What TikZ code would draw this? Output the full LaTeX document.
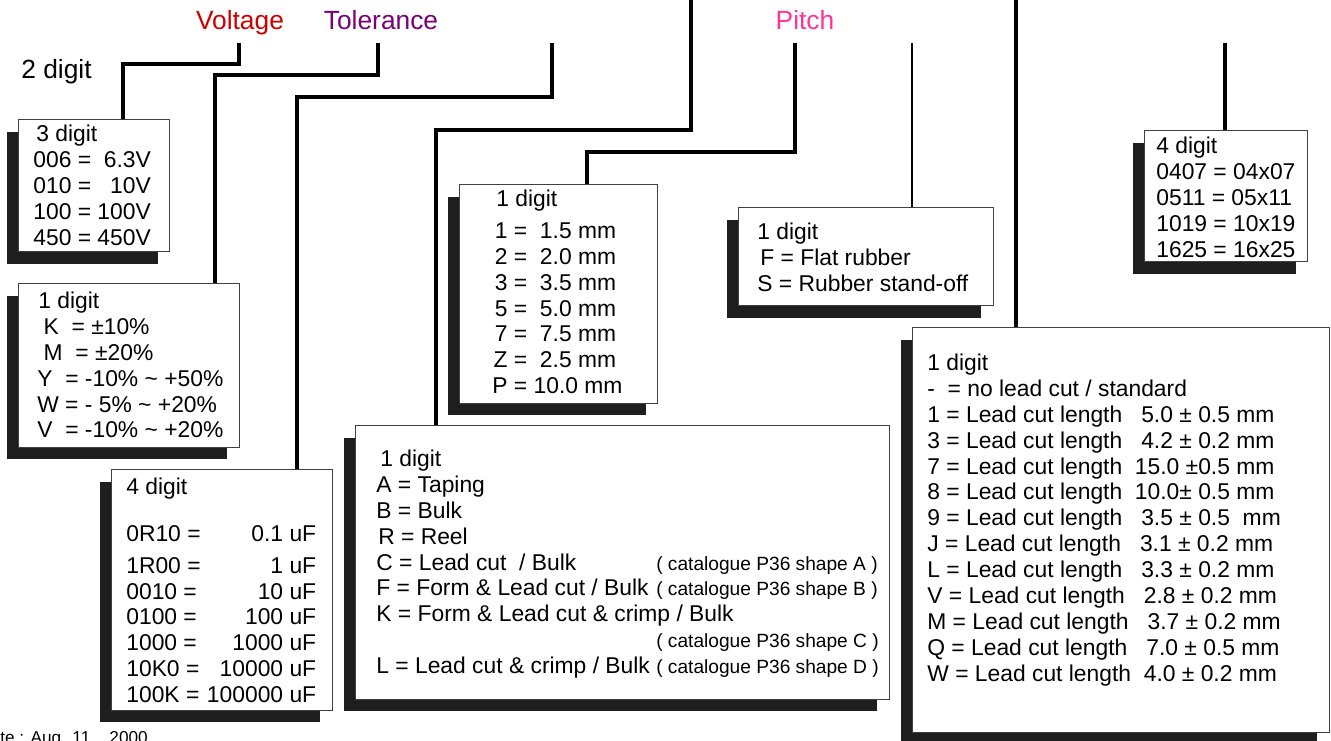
\documentclass[tikz,border=0pt]{standalone}
\usepackage{fontspec}
\setmainfont{Liberation Sans}
\usetikzlibrary{shadows}
\definecolor{volred}{RGB}{204,0,0}
\definecolor{tolpurple}{RGB}{120,0,120}
\definecolor{pitchpink}{RGB}{255,51,153}
\definecolor{shadowgray}{RGB}{30,30,30}
\newcommand{\catnote}[1]{{\fontsize{10.9pt}{12pt}\selectfont #1}}

\begin{document}
\begin{tikzpicture}[
    x=0.02cm, y=-0.02cm,
    card/.style={rectangle, draw=black!75, line width=0.6pt, fill=white, anchor=north west, inner sep=0pt,
        drop shadow={shadow xshift=-0.24cm, shadow yshift=-0.24cm, fill=shadowgray, opacity=1}},
    txt/.style={anchor=north west, inner sep=0pt, font=\fontsize{13pt}{14.74pt}\selectfont},
    tag/.style={anchor=base, inner sep=0pt, font=\fontsize{15pt}{18pt}\selectfont},
    wire/.style={line width=2pt}
]
\useasboundingbox (0,0) rectangle (1331,740);

% Headings
\node[tag, text=volred] (voltage) at (240,30) {Voltage};
\node[tag, text=tolpurple] (tolerance) at (381,30) {Tolerance};
\node[tag, text=pitchpink] (pitch) at (805,30) {Pitch};
\node[tag, anchor=base west] (series) at (21,79) {2 digit};

% Code boxes
\node[card, minimum width=3.02cm, minimum height=2.64cm] (volt) at (18,119) {};
\node[card, minimum width=4.42cm, minimum height=3.28cm] (tol) at (18,283) {};
\node[card, minimum width=4.42cm, minimum height=4.82cm] (cap) at (111,469) {};
\node[card, minimum width=3.96cm, minimum height=4.38cm] (pit) at (459,184) {};
\node[card, minimum width=5.10cm, minimum height=1.96cm] (rub) at (738,207) {};
\node[card, minimum width=10.68cm, minimum height=5.48cm] (pack) at (355,425) {};
\node[card, minimum width=8.34cm, minimum height=8.10cm] (cut) at (912,327) {};
\node[card, minimum width=3.26cm, minimum height=2.62cm] (size) at (1144,130) {};

% Box texts
\node[txt] (volttxt) at (33,123) {\begin{tabular}{@{}l@{\ =\ }r@{}}
\multicolumn{2}{@{}l@{}}{\hspace{1.7pt}3 digit}\\
006 & 6.3V\\
010 & 10V\\
100 & 100V\\
450 & 450V
\end{tabular}};

\node[txt] (toltxt) at (37,290) {\begin{tabular}{@{}l@{}}
\hspace{0.6pt}1 digit\\
\ K\ \ = ±10\%\\
\ M\ \ = ±20\%\\
Y\ \ = -10\% \textasciitilde\ +50\%\\
W = - 5\% \textasciitilde\ +20\%\\
V\ \ = -10\% \textasciitilde\ +20\%
\end{tabular}};

\node[txt] (captxt) at (126,476) {\begin{tabular}{@{}l@{\ }r@{}}
\multicolumn{2}{@{}l@{}}{4 digit}\\[11.9pt]
0R10 = & 0.1 uF\\[3.4pt]
1R00 = & 1 uF\hspace{2.8pt}\\
0010 = & 10 uF\\
0100 = & 100 uF\\
1000 = & 1000 uF\\
10K0 = & 10000 uF\\
100K = & 100000 uF
\end{tabular}};

\node[txt] (pittxt) at (492,188) {\begin{tabular}{@{}r@{\ =\ }l@{}}
\multicolumn{2}{@{}l@{}}{\hspace{2.3pt}1 digit}\\[3.4pt]
1 & \ 1.5 mm\\
2 & \ 2.0 mm\\
3 & \ 3.5 mm\\
5 & \ 5.0 mm\\
7 & \ 7.5 mm\\
Z & \ 2.5 mm\\
P & 10.0 mm
\end{tabular}};

\node[txt] (rubtxt) at (757,221) {\begin{tabular}{@{}l@{}}
1 digit\\
\hspace{1.7pt}F = Flat rubber\\
S = Rubber stand-off
\end{tabular}};

\node[txt] (packtxt) at (376,448) {\begin{tabular}{@{}l@{\ }l@{}}
\multicolumn{2}{@{}l@{}}{\hspace{2.3pt}1 digit}\\
A = Taping & \\
B = Bulk & \\
\hspace{1.1pt}R = Reel & \\
C = Lead cut\ \ / Bulk & \catnote{( catalogue P36 shape A )}\\
F = Form \& Lead cut / Bulk & \catnote{( catalogue P36 shape B )}\\
\multicolumn{2}{@{}l@{}}{K = Form \& Lead cut \& crimp / Bulk}\\
 & \catnote{( catalogue P36 shape C )}\\
L = Lead cut \& crimp / Bulk & \catnote{( catalogue P36 shape D )}
\end{tabular}};

\node[txt] (cuttxt) at (927,352) {\begin{tabular}{@{}l@{}}
1 digit\\
-\ \ = no lead cut / standard\\
1 = Lead cut length\ \ \ 5.0 ± 0.5 mm\\
3 = Lead cut length\ \ \ 4.2 ± 0.2 mm\\
7 = Lead cut length\ \ 15.0 ±0.5 mm\\
8 = Lead cut length\ \ 10.0± 0.5 mm\\
9 = Lead cut length\ \ \ 3.5 ± 0.5\ \ mm\\
J = Lead cut length\ \ \ 3.1 ± 0.2 mm\\
L = Lead cut length\ \ \ 3.3 ± 0.2 mm\\
V = Lead cut length\ \ \ 2.8 ± 0.2 mm\\
M = Lead cut length\ \ \ 3.7 ± 0.2 mm\\
Q = Lead cut length\ \ \ 7.0 ± 0.5 mm\\
W = Lead cut length\ \ 4.0 ± 0.2 mm
\end{tabular}};

\node[txt] (sizetxt) at (1156,135) {\begin{tabular}{@{}l@{}}
4 digit\\
0407 = 04x07\\
0511 = 05x11\\
1019 = 10x19\\
1625 = 16x25
\end{tabular}};

% Date line
\node[anchor=base west, inner sep=0pt, font=\fontsize{9.8pt}{12pt}\selectfont] (date) at (0,743) {te : Aug. 11 ,\ \ 2000};

% Leader lines
\coordinate (vtop) at (239,43);
\coordinate (ttop) at (378,43);
\coordinate (ctop) at (552,43);
\coordinate (dtop) at (691,-2);
\coordinate (ptop) at (795,43);
\coordinate (rtop) at (912,43);
\coordinate (gtop) at (1016,-2);
\coordinate (htop) at (1225,43);

\draw[wire] (vtop) -- ++(0,21) -| ([xshift=2.1cm]volt.north west);
\draw[wire] (ttop) -- ++(0,32) -| ([xshift=3.94cm]tol.north west);
\draw[wire] (ctop) -- ++(0,54) -| ([xshift=3.72cm]cap.north west);
\draw[wire] (dtop) -- ++(0,132) -| ([xshift=1.62cm]pack.north west);
\draw[wire] (ptop) -- ++(0,109) -| ([xshift=2.56cm]pit.north west);
\draw[wire, line width=1.6pt] (rtop) -- (rtop |- rub.north);
\draw[wire] (gtop) -- (gtop |- cut.north);
\draw[wire] (htop) -- (htop |- size.north);

\end{tikzpicture}
\end{document}
